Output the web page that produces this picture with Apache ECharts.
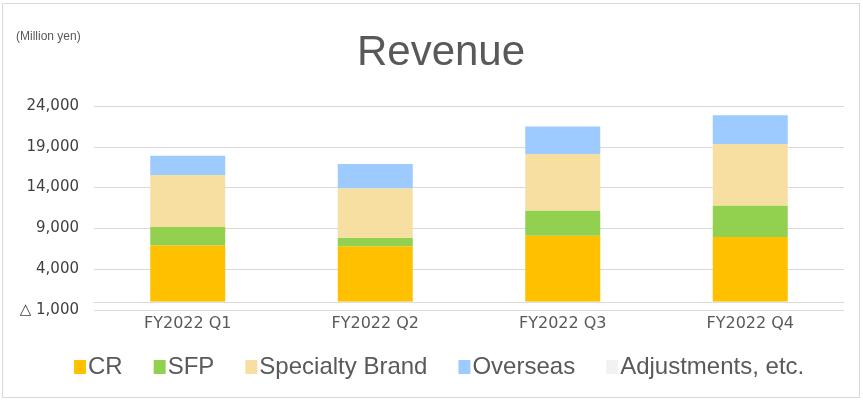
<!DOCTYPE html>
<html>
<head>
<meta charset="utf-8">
<script src="https://cdn.jsdelivr.net/npm/echarts@6/dist/echarts.min.js"></script>
<style>
  html, body { margin: 0; padding: 0; background: #fff; }
  #frame { position: absolute; left: 2px; top: 3px; width: 858px; height: 395px; border: 1px solid #d9d9d9; box-sizing: border-box; }
  #chart { position: absolute; left: 0; top: 0; width: 863px; height: 400px; }
</style>
</head>
<body>
<div id="frame"></div>
<div id="chart"></div>
<script>
// quarters on the x axis
const quarters = ['FY2022 Q1', 'FY2022 Q2', 'FY2022 Q3', 'FY2022 Q4']
// segment revenue, million yen
const crData = [6930, 6800, 8110, 7940]
const sfpData = [2230, 1060, 3090, 3870]
const specialtyData = [6390, 6050, 6910, 7520]
const overseasData = [2350, 2980, 3370, 3540]
const adjustData = [-60, -60, -60, -60]

const seriesNames = ['CR', 'SFP', 'Specialty Brand', 'Overseas', 'Adjustments, etc.']
const seriesColors = ['#FFC000', '#92D050', '#F6DFA0', '#9DCBFF', '#F2F2F2']
const seriesData = [crData, sfpData, specialtyData, overseasData, adjustData]

const chart = echarts.init(document.getElementById('chart'), null, { renderer: 'canvas' })

const fmt = (v) => {
    const s = Math.abs(v).toLocaleString('en-US')
    return v < 0 ? '△ ' + s : s
}

chart.setOption({
    backgroundColor: 'transparent',
    animation: false,
    title: [{
        text: 'Revenue',
        left: 436,
        top: 27,
        textAlign: 'center',
        textStyle: { fontFamily: 'Liberation Sans', fontSize: 42, fontWeight: 'normal', color: '#595959' }
    }, {
        text: '(Million yen)',
        left: 11,
        top: 26,
        textStyle: { fontFamily: 'Liberation Sans', fontSize: 12, fontWeight: 'normal', color: '#595959' }
    }],
    legend: {
        data: seriesNames,
        left: 69,
        top: 350,
        itemWidth: 12,
        itemHeight: 14,
        itemGap: 31,
        icon: 'rect',
        textStyle: { fontFamily: 'Liberation Sans', fontSize: 24, color: '#595959', padding: [0, 0, 0, -3] }
    },
    grid: {
        left: 94,
        right: 19,
        top: 106,
        bottom: 90
    },
    xAxis: {
        type: 'category',
        data: quarters,
        axisTick: { show: false },
        axisLine: { lineStyle: { color: '#d9d9d9', width: 1 } },
        axisLabel: {
            margin: 6,
            fontFamily: 'DejaVu Sans',
            fontSize: 16,
            color: '#595959'
        }
    },
    yAxis: {
        type: 'value',
        min: -1000,
        max: 24000,
        interval: 5000,
        axisLine: { show: false },
        axisTick: { show: false },
        splitLine: { lineStyle: { color: '#d9d9d9', width: 1 } },
        axisLabel: {
            margin: 15,
            fontFamily: 'DejaVu Sans',
            fontSize: 15,
            color: '#404040',
            formatter: fmt
        }
    },
    series: seriesNames.map((name, i) => ({
        name: name,
        type: 'bar',
        stack: 'total',
        barWidth: 75,
        data: seriesData[i],
        itemStyle: { color: seriesColors[i] }
    }))
})
</script>
</body>
</html>
